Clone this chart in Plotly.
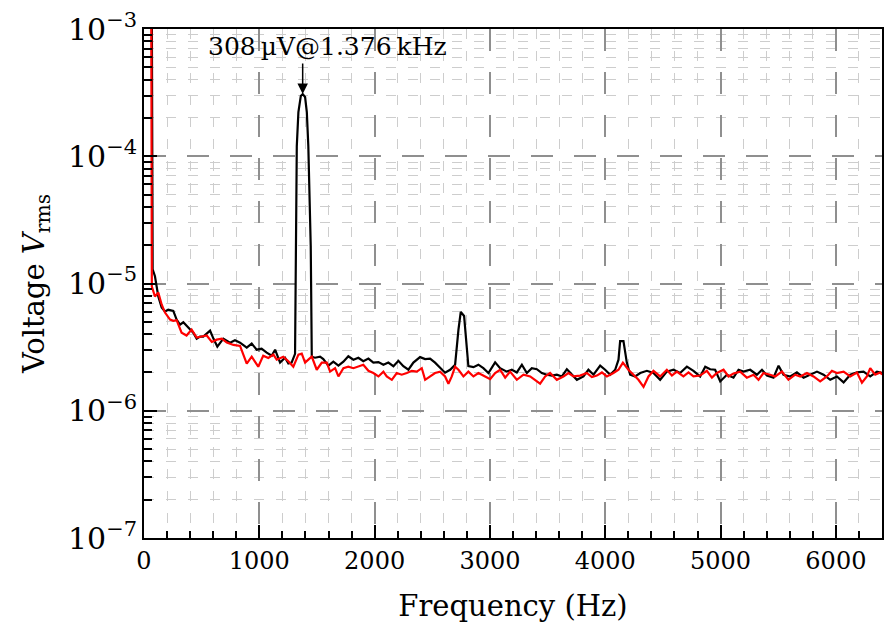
import numpy as np
import plotly.graph_objects as go

# ---- data (frequency in Hz, voltage in microvolts rms) ----
freq_black = [0, 66, 75, 95, 124, 153, 182, 210, 254, 283, 312, 341, 384, 427, 457, 486, 514,
              573, 602, 636, 688, 746, 789, 833, 891, 934, 977, 1020, 1064, 1108, 1137, 1180,
              1223, 1252, 1280, 1298, 1310, 1325, 1339, 1360, 1376, 1397, 1412, 1425, 1446,
              1455, 1483, 1527, 1555, 1599, 1642, 1686, 1729, 1772, 1816, 1859, 1902, 1946,
              1989, 2033, 2076, 2119, 2163, 2206, 2249, 2293, 2336, 2394, 2438, 2481, 2524,
              2568, 2611, 2655, 2698, 2727, 2747, 2776, 2799, 2813, 2857, 2900, 2943, 2987,
              3045, 3088, 3146, 3190, 3233, 3277, 3320, 3363, 3407, 3450, 3493, 3537, 3580,
              3624, 3667, 3710, 3754, 3811, 3854, 3898, 3956, 3999, 4043, 4086, 4115, 4129,
              4158, 4187, 4216, 4259, 4303, 4361, 4418, 4476, 4534, 4592, 4649, 4708, 4765,
              4823, 4867, 4910, 4953, 4997, 5055, 5112, 5156, 5199, 5257, 5315, 5359, 5402,
              5459, 5503, 5546, 5604, 5662, 5720, 5778, 5836, 5893, 5951, 6009, 6067, 6125,
              6183, 6240, 6298, 6356, 6400]
v_black_uV = [5000, 5000, 12.9, 11.4, 7.9, 6.47, 6.02, 6.24, 6.1, 5.21, 4.75, 4.96, 4.51, 4.11,
              3.69, 3.83, 3.83, 4.26, 3.69, 3.19, 3.69, 3.43, 3.58, 3.43, 3.13, 3.37, 3.02,
              3.08, 2.86, 2.71, 3.02, 2.39, 2.61, 2.35, 2.39, 2.66, 2.8, 120, 222, 298, 308,
              292, 222, 120, 19.7, 2.66, 2.61, 2.66, 2.55, 2.26, 2.43, 2.26, 2.43, 2.68, 2.52,
              2.61, 2.45, 2.57, 2.39, 2.41, 2.30, 2.39, 2.24, 2.47, 2.24, 2.10, 2.39, 2.64,
              2.55, 2.57, 2.39, 2.18, 1.99, 2.10, 2.30, 4.34, 5.98, 5.55, 3.2, 2.24, 2.20,
              2.30, 2.16, 1.98, 2.40, 2.16, 2.03, 2.10, 2.00, 2.30, 1.98, 2.16, 2.12, 1.98,
              1.92, 1.89, 1.92, 1.86, 2.12, 1.92, 1.75, 1.86, 2.10, 1.92, 2.26, 2.10, 1.92,
              2.10, 2.52, 3.53, 3.53, 2.39, 1.92, 1.86, 1.98, 2.06, 1.98, 1.75, 2.03, 2.10,
              1.98, 2.22, 2.06, 1.86, 2.22, 2.12, 2.10, 1.70, 1.92, 1.82, 2.10, 2.03, 2.10,
              1.92, 2.10, 1.89, 1.82, 2.26, 1.92, 1.86, 2.00, 1.82, 1.92, 2.03, 1.92, 1.75,
              1.86, 1.67, 1.92, 2.00, 2.03, 1.86, 2.03, 1.98]

freq_red = [0, 62, 68, 95, 124, 153, 182, 226, 254, 283, 326, 369, 413, 457, 500, 544, 588,
            631, 674, 718, 776, 833, 891, 934, 991, 1034, 1078, 1122, 1151, 1208, 1252, 1295,
            1310, 1339, 1368, 1397, 1425, 1455, 1498, 1542, 1585, 1614, 1657, 1686, 1729,
            1772, 1816, 1859, 1902, 1946, 1989, 2033, 2076, 2105, 2149, 2192, 2235, 2279,
            2322, 2366, 2409, 2438, 2481, 2524, 2568, 2611, 2640, 2669, 2698, 2727, 2770,
            2813, 2857, 2900, 2958, 3002, 3045, 3088, 3132, 3175, 3233, 3291, 3349, 3392,
            3435, 3479, 3522, 3580, 3637, 3681, 3724, 3782, 3840, 3884, 3927, 3971, 4014,
            4071, 4115, 4153, 4201, 4245, 4288, 4332, 4375, 4418, 4476, 4534, 4578, 4621,
            4678, 4722, 4765, 4823, 4881, 4925, 4968, 5026, 5069, 5112, 5170, 5228, 5286,
            5329, 5372, 5430, 5474, 5532, 5589, 5647, 5691, 5749, 5806, 5864, 5922, 5966,
            6009, 6067, 6125, 6183, 6226, 6269, 6298, 6341, 6385, 6400]
v_red_uV = [5000, 5000, 9.47, 7.90, 8.49, 6.84, 5.91, 5.21, 5.09, 5.15, 4.11, 3.90, 4.34,
            3.76, 3.83, 3.90, 3.47, 3.62, 3.69, 3.43, 3.29, 3.23, 2.35, 2.66, 2.22, 2.71,
            2.60, 2.76, 2.52, 2.66, 2.45, 2.22, 2.39, 2.76, 2.81, 2.39, 2.52, 2.66, 2.10,
            2.39, 2.39, 2.03, 2.16, 1.86, 2.16, 2.22, 2.16, 2.22, 2.30, 2.06, 1.98, 1.86,
            2.03, 1.86, 1.75, 1.98, 1.92, 1.98, 2.06, 2.03, 2.16, 1.75, 1.86, 1.98, 2.03,
            1.86, 1.63, 1.86, 2.22, 2.10, 1.86, 2.03, 1.86, 1.98, 1.86, 1.77, 1.98, 2.10,
            1.82, 2.03, 1.75, 1.92, 1.86, 1.75, 1.63, 1.86, 1.98, 1.75, 1.86, 1.98, 1.86,
            1.89, 1.98, 1.84, 1.89, 2.00, 1.86, 1.98, 2.10, 2.39, 2.10, 1.92, 1.75, 1.54,
            1.86, 2.06, 1.86, 2.10, 1.89, 2.03, 1.86, 2.00, 1.86, 1.89, 2.06, 1.82, 1.98,
            2.10, 1.86, 1.96, 2.03, 1.82, 1.92, 1.75, 1.98, 1.92, 1.86, 2.03, 1.75, 1.92,
            1.86, 1.98, 1.86, 1.70, 1.86, 2.06, 1.98, 2.03, 1.86, 2.00, 1.66, 1.86, 2.16,
            1.92, 2.00, 1.92]

peak_freq = 1376       # Hz
peak_uV = 308          # microvolts
label_freq = 1588      # Hz, centre of annotation text
label_uV = 735         # microvolts, height of annotation text

FONT = "DejaVu Serif"

fig = go.Figure()
fig.add_trace(go.Scatter(x=freq_black, y=np.array(v_black_uV) * 1e-6, mode="lines",
                         line=dict(color="black", width=2.2), showlegend=False))
fig.add_trace(go.Scatter(x=freq_red, y=np.array(v_red_uV) * 1e-6, mode="lines",
                         line=dict(color="#ff0000", width=2.2), showlegend=False))

major_grid = dict(showgrid=True, gridcolor="#8f8f8f", gridwidth=1.5, griddash="22px,21px")
minor_grid = dict(showgrid=True, gridcolor="#cdcdcd", gridwidth=1, griddash="10px,12px")

fig.update_xaxes(range=[0, 6400], tick0=0, dtick=1000, ticks="inside", ticklen=13,
                 tickwidth=2, tickcolor="black", showline=True, linewidth=2,
                 linecolor="black", mirror=True, zeroline=False, automargin=False,
                 tickfont=dict(family=FONT, size=24, color="black"),
                 title=dict(text="Frequency (Hz)", standoff=22,
                            font=dict(family=FONT, size=29, color="black")),
                 minor=dict(dtick=200, ticks="inside", ticklen=7, tickwidth=1.5,
                            tickcolor="black", **minor_grid),
                 **major_grid)
fig.update_yaxes(type="log", range=[-7, -3], dtick=1, exponentformat="power",
                 ticks="inside", ticklen=13, tickwidth=2, tickcolor="black",
                 showline=True, linewidth=2, linecolor="black", mirror=True, zeroline=False,
                 automargin=False,
                 tickfont=dict(family=FONT, size=24, color="black"),
                 title=dict(text="Voltage <i>V</i><sub>rms</sub>",
                            font=dict(family=FONT, size=29, color="black")),
                 minor=dict(dtick="D1", ticks="inside", ticklen=8, tickwidth=1.5,
                            tickcolor="black", **minor_grid),
                 **major_grid)

fig.add_annotation(x=peak_freq, y=np.log10(peak_uV * 1e-6), xref="x", yref="y",
                   text="", showarrow=True, ax=0, ay=-32, axref="pixel", ayref="pixel",
                   arrowhead=2, arrowsize=1.4, arrowwidth=1.5, arrowcolor="black")
fig.add_annotation(x=label_freq, y=np.log10(label_uV * 1e-6), xref="x", yref="y",
                   text=f"{peak_uV}\u2009µV@{peak_freq / 1000:.3f}\u2009kHz", showarrow=False,
                   font=dict(family=FONT, size=25, color="black"))

fig.update_layout(width=892, height=630, margin=dict(l=144, r=10, t=29, b=92),
                  paper_bgcolor="white", plot_bgcolor="white",
                  font=dict(family=FONT, color="black"))

# remove the default page margin so the figure sits at the window's top-left corner
fig.write_html("out.html", config={"displayModeBar": False},
               post_script="document.body.style.margin='0';document.body.style.overflow='hidden';")
